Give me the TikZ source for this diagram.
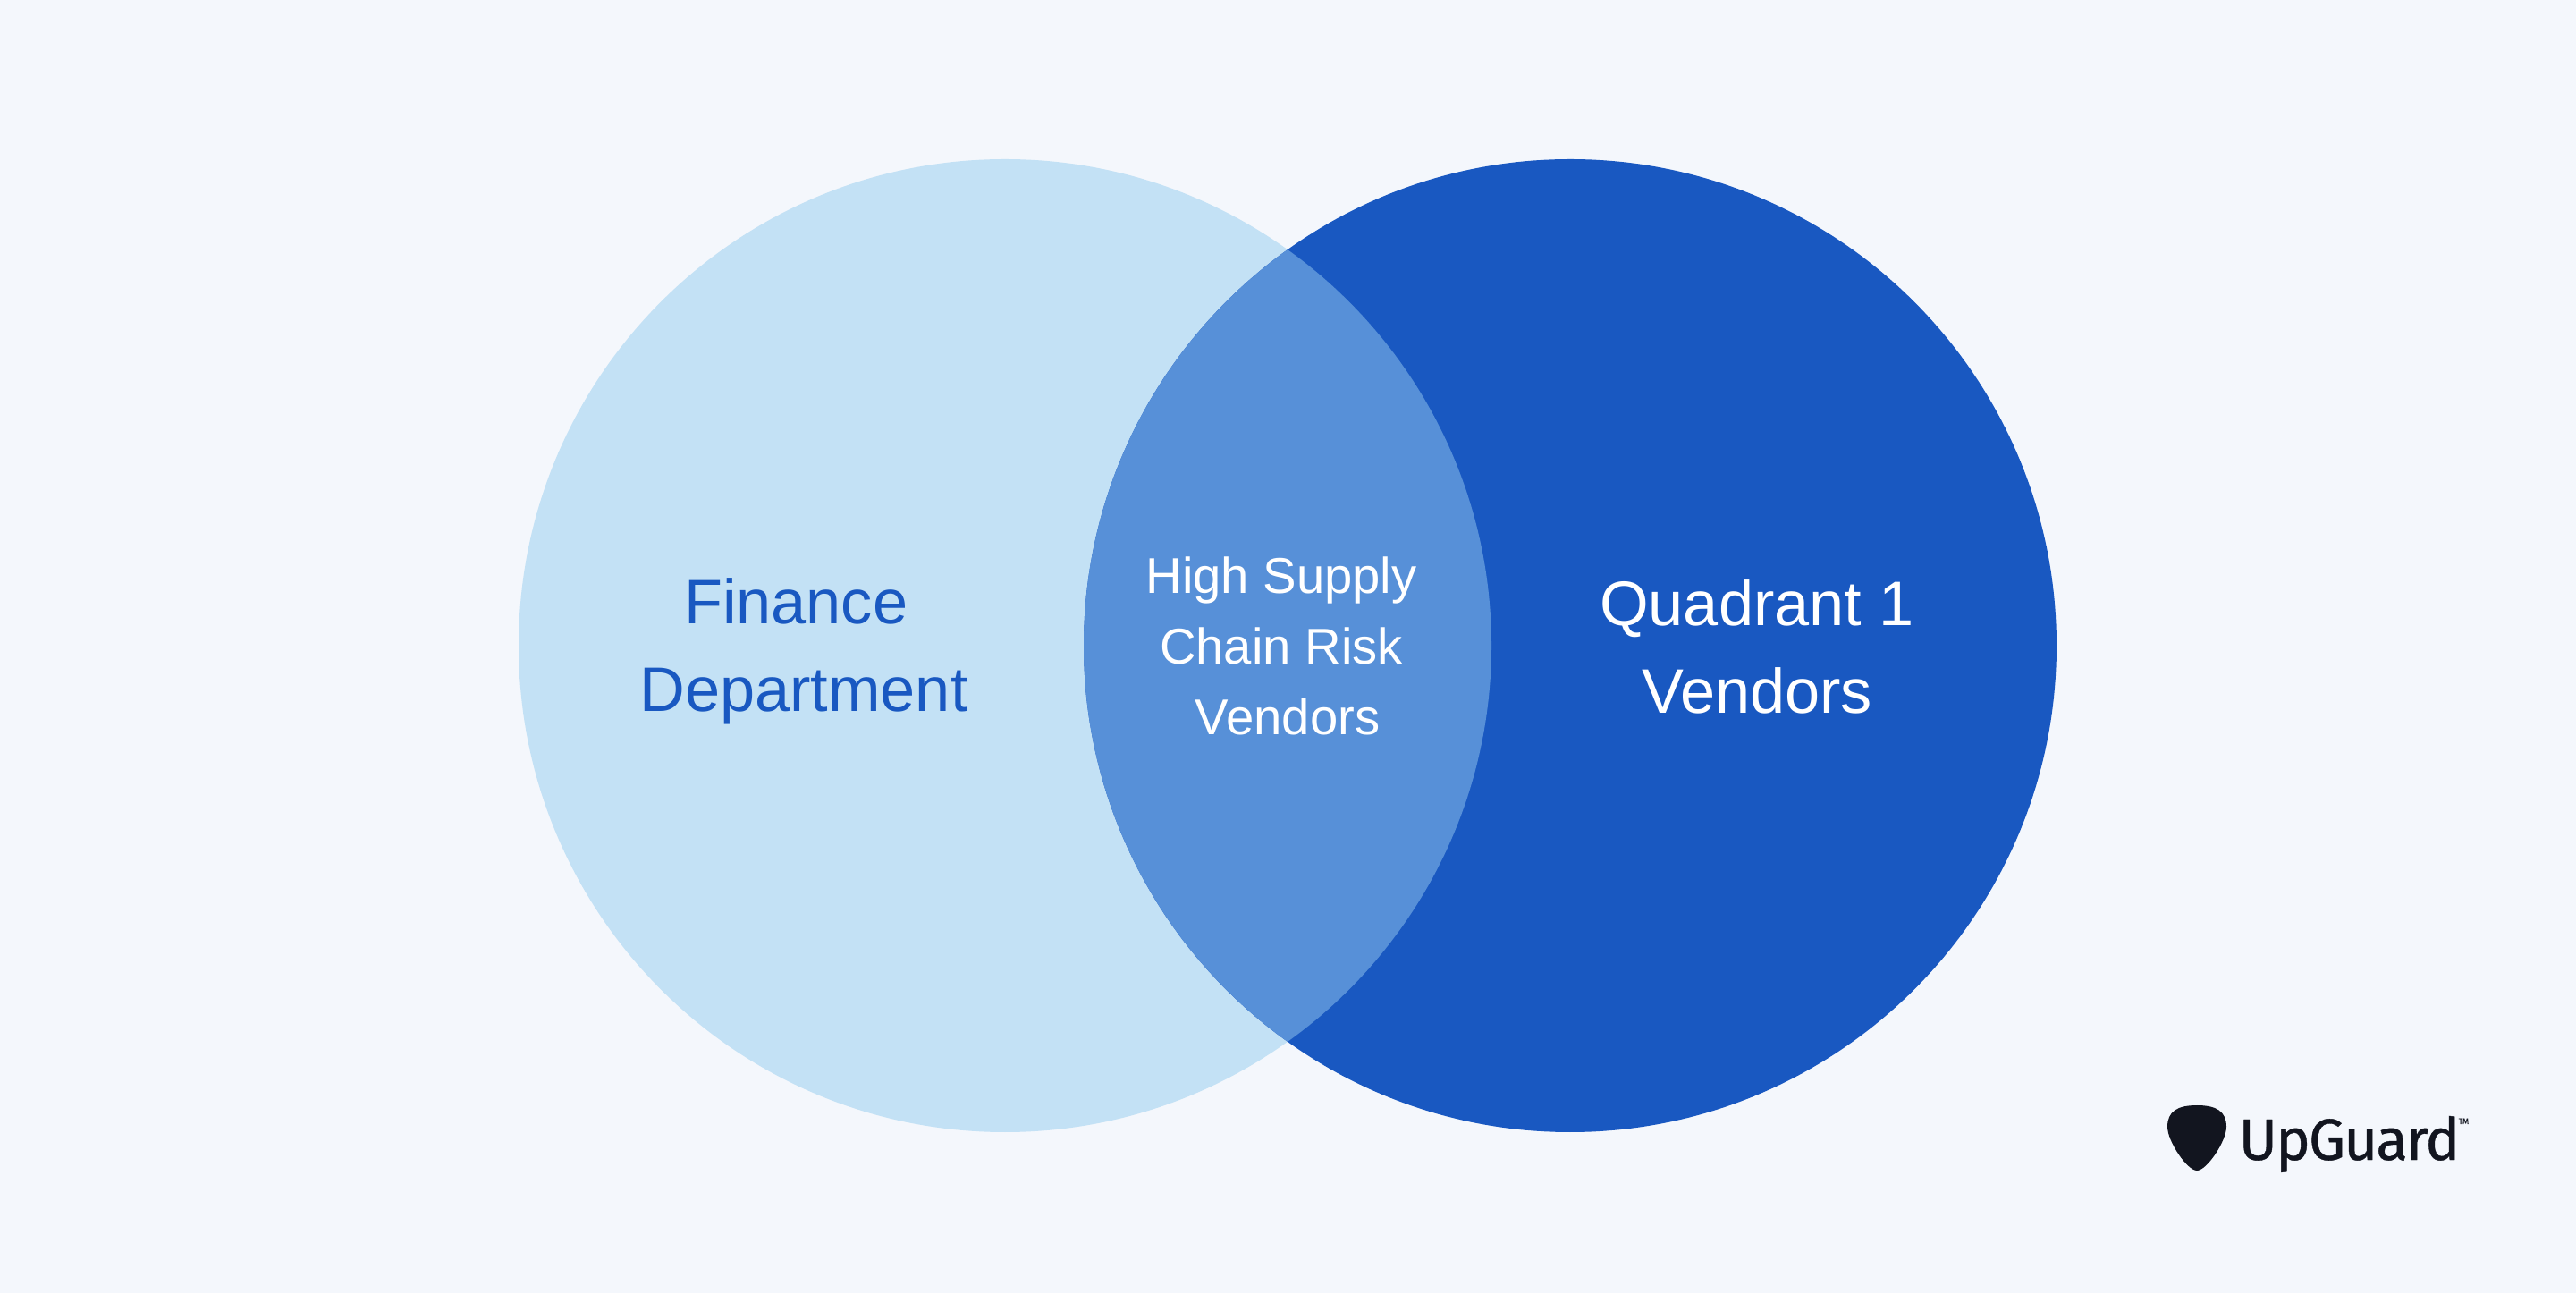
\documentclass[tikz,border=0pt]{standalone}
\usepackage{fontspec}
\setmainfont{Liberation Sans}
\newfontfamily\logofont[LetterSpace=-3,FakeBold=0.6]{Fira Sans}
\definecolor{pagebg}{HTML}{F4F7FC}
\definecolor{lightblue}{HTML}{C3E1F5}
\definecolor{darkblue}{HTML}{1958C1}
\definecolor{midblue}{HTML}{5790D8}
\definecolor{logoink}{HTML}{12151F}
\begin{document}
\begin{tikzpicture}
    \tikzstyle{set} = [circle, minimum size=10.88cm, inner sep=0pt, outer sep=0pt]
    \tikzstyle{biglabel} = [align=center, inner sep=0pt, font=\fontsize{20}{27.9}\selectfont]
    \tikzstyle{smalllabel} = [align=center, inner sep=0pt, font=\fontsize{16}{22.5}\selectfont, text=white]
    \fill[pagebg] (0, 0) rectangle (28.81, 14.46);
    \useasboundingbox (0, 0) rectangle (28.81, 14.46);
    \node (finance) [set, fill=lightblue] at (11.24, 7.24) {};
    \node (quadrant) [set, fill=darkblue] at (17.56, 7.24) {};
    \begin{scope}
      \clip (11.24, 7.24) circle (5.44);
      \fill[midblue] (17.56, 7.24) circle (5.44);
    \end{scope}
    \node (financetext) [biglabel, text=darkblue] at (8.99, 7.18) {Finance\hspace*{5pt}\\Department};
    \node (quadranttext) [biglabel, text=white] at (19.65, 7.23) {Quadrant 1\\Vendors};
    \node (overlaptext) [smalllabel] at (14.33, 7.24) {High Supply\\Chain Risk\\\hspace*{4pt}Vendors};
    \fill[logoink] (24.57, 2.10) .. controls (24.79, 2.10) and (24.90, 2.03) .. (24.90, 1.86)
      .. controls (24.90, 1.70) and (24.68, 1.37) .. (24.57, 1.37)
      .. controls (24.46, 1.37) and (24.24, 1.70) .. (24.24, 1.86)
      .. controls (24.24, 2.03) and (24.35, 2.10) .. (24.57, 2.10) -- cycle;
    \node (logotext) [anchor=base west, inner sep=0pt, text=logoink, font=\logofont\fontsize{18.6}{20}\selectfont] at (25.03, 1.49) {UpGuard};
    \node (logotm) [anchor=north west, inner sep=0pt, text=logoink, font=\logofont\fontsize{2.6}{3}\selectfont] at (27.49, 1.96) {TM};
\end{tikzpicture}
\end{document}
